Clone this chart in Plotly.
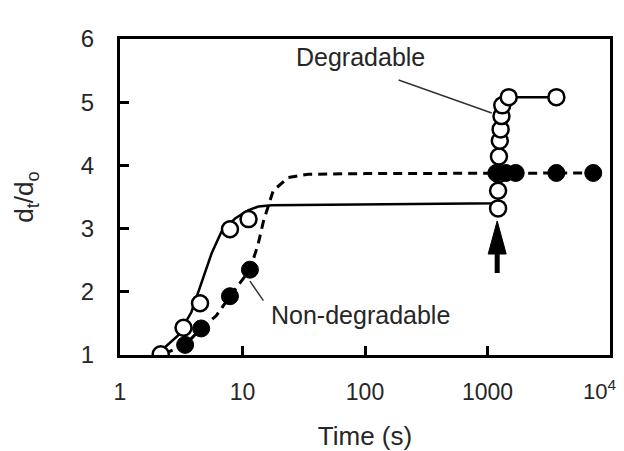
import math
import plotly.graph_objects as go

# ---- data ----
deg_t = [2.15, 3.3, 4.5, 7.9, 11.2, 1220, 1220, 1230, 1240, 1260, 1280, 1300, 1320, 1490, 3650]
deg_v = [1.01, 1.43, 1.82, 2.99, 3.15, 3.32, 3.60, 3.86, 4.14, 4.39, 4.57, 4.78, 4.95, 5.08, 5.08]

nondeg_t = [3.4, 4.6, 7.9, 11.5, 1180, 1410, 1700, 3650, 7300]
nondeg_v = [1.16, 1.42, 1.93, 2.35, 3.88, 3.88, 3.88, 3.88, 3.88]

deg_fit_t = [1.98, 2.98, 3.83, 4.62, 5.6, 6.73, 8.7, 11.1, 13.5, 17.3, 100, 1220, 1220, 1300, 1490, 3650]
deg_fit_v = [1.0, 1.31, 1.68, 2.15, 2.61, 2.95, 3.16, 3.29, 3.35, 3.37, 3.38, 3.40, 3.40, 4.95, 5.08, 5.08]

nondeg_fit_t = [2.3, 3.4, 4.6, 6.1, 7.9, 11.5, 13.4, 14.8, 17.8, 23.7, 34.5, 100, 7300]
nondeg_fit_v = [1.02, 1.16, 1.42, 1.62, 1.93, 2.35, 2.75, 3.11, 3.60, 3.81, 3.86, 3.87, 3.88]

x_tickvals = [1, 10, 100, 1000, 10000]
x_ticktext = ["1", "10", "100", "1000", ""]
x_last_label = "10<sup>4</sup>"
y_tickvals = [1, 2, 3, 4, 5, 6]

FONT = "Liberation Sans, Arial, sans-serif"
TXT = "#262626"

fig = go.Figure()
fig.add_trace(go.Scatter(x=nondeg_fit_t, y=nondeg_fit_v, mode="lines",
                         line=dict(color="black", width=3, dash="9px,6px"),
                         showlegend=False, hoverinfo="skip"))
fig.add_trace(go.Scatter(x=deg_fit_t, y=deg_fit_v, mode="lines",
                         line=dict(color="black", width=2.5),
                         showlegend=False, hoverinfo="skip"))
fig.add_trace(go.Scatter(x=deg_t, y=deg_v, mode="markers", name="Degradable",
                         marker=dict(symbol="circle", size=16, color="white",
                                     line=dict(color="black", width=2.5)),
                         showlegend=False))
fig.add_trace(go.Scatter(x=nondeg_t, y=nondeg_v, mode="markers", name="Non-degradable",
                         marker=dict(symbol="circle", size=17, color="black",
                                     line=dict(color="black", width=1)),
                         showlegend=False))

# leader lines for labels
fig.add_shape(type="line", xref="x", yref="y", x0=188, y0=5.35, x1=1083, y1=4.83,
              line=dict(color="#333", width=1.5))
fig.add_shape(type="line", xref="x", yref="y", x0=14.8, y0=1.86, x1=11.5, y1=2.17,
              line=dict(color="#333", width=1.5))

# arrow marking the switch time
fig.add_shape(type="path", xref="x", yref="y", xsizemode="pixel", ysizemode="pixel",
              xanchor=1200, yanchor=3.12,
              path="M0,0 L-9,-33 L9,-33 Z", fillcolor="black", line=dict(color="black", width=1))
fig.add_shape(type="path", xref="x", yref="y", xsizemode="pixel", ysizemode="pixel",
              xanchor=1200, yanchor=3.12,
              path="M-2.5,-30 L2.5,-30 L2.5,-52 L-2.5,-52 Z", fillcolor="black",
              line=dict(color="black", width=0))

fig.add_annotation(x=math.log10(92), y=5.72, xref="x", yref="y", text="Degradable",
                   showarrow=False, font=dict(family=FONT, size=25, color=TXT))
fig.add_annotation(x=math.log10(92), y=1.63, xref="x", yref="y", text="Non-degradable",
                   showarrow=False, font=dict(family=FONT, size=25, color=TXT))
# last x tick label, kept inside the page like the reference
fig.add_annotation(x=math.log10(x_tickvals[-1]), y=1, xref="x", yref="y", text=x_last_label,
                   showarrow=False, xanchor="right", yanchor="middle",
                   xshift=8, yshift=-35, font=dict(family=FONT, size=22, color=TXT))

fig.update_xaxes(type="log", range=[0, 4], tickvals=x_tickvals, ticktext=x_ticktext,
                 ticks="inside", ticklen=9, tickwidth=3, tickcolor="black",
                 showline=True, linewidth=3, linecolor="black", mirror=True,
                 showgrid=False, zeroline=False,
                 tickfont=dict(family=FONT, size=23, color=TXT), ticklabelstandoff=14,
                 title=dict(text="Time (s)", font=dict(family=FONT, size=26, color=TXT), standoff=24))
fig.update_yaxes(range=[1, 6], tickvals=y_tickvals,
                 ticks="inside", ticklen=9, tickwidth=3, tickcolor="black",
                 showline=True, linewidth=3, linecolor="black", mirror=True,
                 showgrid=False, zeroline=False,
                 tickfont=dict(family=FONT, size=24, color=TXT), ticklabelstandoff=18,
                 title=dict(text="d<sub>t</sub>/d<sub>o</sub>", font=dict(family=FONT, size=26, color=TXT), standoff=40))

fig.update_layout(width=624, height=451, plot_bgcolor="white", paper_bgcolor="white",
                  margin=dict(l=112, r=22, t=31, b=101), showlegend=False)

fig.write_html("out.html")
